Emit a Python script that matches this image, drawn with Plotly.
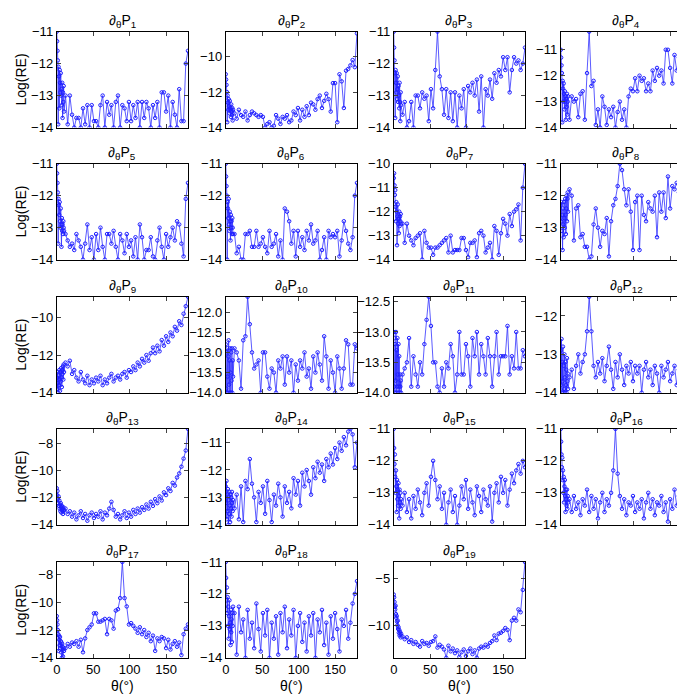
import plotly.graph_objects as go

# theta grid (degrees): dense near 0, then every 3 degrees
theta = [0, 0.5, 1, 1.5, 2, 2.5, 3, 3.5, 4, 4.5, 5, 5.5, 6, 6.5, 7, 7.5, 8, 8.5, 9, 9.5, 10,
         12, 15, 18, 21, 24, 27, 30, 33, 36, 39, 42, 45, 48, 51, 54, 57, 60, 63, 66, 69,
         72, 75, 78, 81, 84, 87, 90, 93, 96, 99, 102, 105, 108, 111, 114, 117, 120, 123, 126, 129,
         132, 135, 138, 141, 144, 147, 150, 153, 156, 159, 162, 165, 168, 171, 174, 177, 180]

p1 = [-11.0, -11.3, -11.6, -11.9, -13.9, -12.1, -12.4, -13.4, -12.2, -12.6, -12.9, -12.3, -13.0, -12.8, -13.3, -12.6, -13.7, -12.9, -13.2, -12.7, -13.5,
      -13.0, -13.9, -13.0, -13.6, -14.0, -13.7, -13.7, -14.0, -13.4, -13.9, -13.3, -14.0, -13.3, -13.8, -13.8, -14.0, -13.3, -13.0, -14.0, -13.2,
      -13.6, -13.3, -14.0, -13.2, -13.0, -14.0, -13.3, -13.4, -13.8, -13.2, -13.8, -13.3, -13.7, -13.2, -14.0, -13.2, -13.7, -13.2, -13.4, -14.0,
      -13.3, -13.7, -13.2, -14.0, -12.9, -12.9, -13.5, -13.0, -14.0, -13.2, -13.6, -14.0, -12.8, -13.8, -13.8, -12.0, -11.6]
p2 = [-11.0, -11.3, -11.6, -12.0, -13.7, -12.2, -12.6, -13.0, -12.4, -12.8, -13.2, -12.5, -13.0, -12.9, -13.4, -12.7, -13.1, -13.3, -12.9, -13.6, -13.0,
      -13.2, -13.5, -13.0, -13.3, -13.4, -13.1, -13.6, -13.3, -13.1, -13.2, -13.3, -13.4, -13.3, -13.4, -14.0, -13.8, -13.7, -14.0, -13.9, -13.3,
      -13.5, -13.8, -13.4, -13.5, -13.3, -13.7, -13.6, -13.1, -13.3, -12.9, -13.6, -13.0, -13.4, -12.8, -13.3, -12.6, -12.7, -13.0, -12.4, -12.2,
      -12.9, -12.5, -12.1, -12.4, -13.1, -11.5, -11.5, -13.7, -11.0, -11.4, -12.9, -10.8, -10.7, -10.5, -10.2, -10.6, -8.7]
p3 = [-11.0, -11.5, -11.9, -12.3, -13.7, -12.2, -12.6, -12.9, -12.3, -13.1, -12.8, -12.4, -13.2, -12.7, -13.0, -13.4, -12.6, -13.2, -13.8, -12.9, -13.3,
      -13.6, -13.2, -14.0, -13.8, -13.2, -14.0, -13.0, -13.0, -13.4, -12.9, -13.1, -13.0, -13.8, -12.8, -13.4, -12.2, -11.0, -12.4, -12.8, -13.6,
      -12.8, -13.7, -12.9, -13.8, -12.9, -14.0, -13.0, -13.4, -12.8, -14.0, -12.7, -12.9, -12.6, -13.0, -12.5, -13.5, -12.4, -14.0, -12.8, -13.0,
      -12.5, -13.1, -12.3, -12.6, -12.2, -12.4, -11.8, -12.2, -11.8, -12.9, -12.2, -11.8, -12.0, -11.9, -12.2, -12.0, -11.5]
p4 = [-11.0, -11.3, -11.6, -11.9, -13.8, -12.2, -12.5, -13.0, -12.3, -12.7, -13.3, -12.6, -13.0, -12.8, -13.7, -12.9, -13.2, -12.7, -13.5, -13.0, -12.8,
      -13.7, -12.8, -13.0, -12.9, -13.6, -12.7, -12.6, -13.7, -11.9, -10.3, -12.4, -12.2, -13.9, -13.3, -14.0, -12.8, -13.2, -13.9, -13.3, -13.6,
      -13.2, -14.0, -13.4, -13.0, -13.7, -13.3, -14.0, -12.8, -12.5, -12.6, -12.1, -12.6, -12.0, -12.2, -12.1, -12.6, -12.3, -12.6, -11.8, -12.2,
      -11.7, -12.0, -11.8, -12.3, -11.0, -11.0, -11.7, -12.3, -11.2, -11.8, -11.3, -11.5, -12.3, -11.0, -11.2, -10.6, -10.8]
p5 = [-11.0, -11.3, -11.6, -11.9, -13.5, -12.1, -12.3, -12.6, -12.2, -12.8, -13.0, -12.4, -12.9, -13.6, -12.7, -13.1, -12.9, -13.2, -12.8, -13.0, -13.1,
      -13.2, -13.4, -13.6, -13.5, -13.7, -13.2, -13.4, -13.6, -14.0, -13.5, -12.9, -13.7, -13.3, -14.0, -13.2, -13.7, -13.0, -13.6, -14.0, -13.2,
      -13.2, -13.5, -13.1, -13.6, -14.0, -13.2, -13.4, -13.8, -13.2, -13.6, -13.4, -13.9, -13.3, -14.0, -12.9, -13.3, -14.0, -13.7, -13.7, -13.3,
      -13.9, -14.0, -13.4, -13.0, -13.6, -14.0, -13.2, -13.6, -13.3, -13.0, -13.4, -12.8, -12.9, -13.5, -13.9, -12.1, -11.6]
p6 = [-11.0, -11.4, -11.7, -12.0, -14.0, -12.2, -12.4, -12.7, -12.1, -12.9, -13.1, -12.5, -12.8, -13.4, -12.6, -13.0, -12.8, -13.2, -12.7, -13.0, -13.2,
      -13.2, -13.8, -13.6, -14.0, -14.0, -13.2, -13.2, -13.1, -13.6, -13.6, -13.1, -13.6, -13.5, -13.3, -13.6, -13.8, -13.1, -13.6, -13.5, -13.2,
      -13.9, -13.4, -14.0, -12.4, -12.5, -12.8, -13.5, -13.1, -13.9, -13.1, -13.6, -13.3, -13.7, -13.1, -13.4, -12.9, -13.5, -13.4, -13.1, -14.0,
      -13.7, -13.3, -14.0, -13.1, -13.3, -13.2, -13.3, -13.1, -13.9, -13.4, -12.8, -13.1, -13.5, -13.7, -13.3, -12.0, -11.6]
p7 = [-10.6, -10.4, -10.9, -11.3, -11.1, -11.8, -12.4, -11.6, -12.0, -13.4, -12.2, -11.7, -12.5, -12.3, -12.9, -12.0, -12.6, -12.2, -12.4, -12.1, -12.5,
      -12.5, -13.3, -12.5, -13.0, -13.2, -13.4, -13.1, -13.0, -12.9, -14.0, -12.8, -13.3, -13.5, -13.5, -13.8, -13.5, -13.5, -13.4, -13.3, -13.2,
      -13.1, -13.7, -13.0, -13.7, -13.6, -13.6, -13.6, -13.1, -13.1, -13.6, -13.9, -13.3, -13.3, -13.2, -13.9, -12.9, -12.8, -13.0, -13.7, -13.5,
      -13.3, -14.0, -12.6, -12.8, -13.8, -12.9, -12.3, -12.5, -13.0, -12.1, -12.6, -12.0, -11.9, -11.7, -13.2, -11.0, -10.0]
p8 = [-12.3, -12.8, -12.2, -13.1, -12.6, -13.7, -12.4, -12.9, -13.3, -12.2, -12.7, -13.0, -12.1, -12.6, -13.2, -12.4, -12.0, -12.8, -12.1, -11.9, -12.5,
      -11.8, -12.0, -13.4, -12.4, -12.3, -13.3, -13.2, -13.6, -13.6, -14.0, -13.9, -12.9, -12.4, -13.0, -13.6, -13.1, -13.2, -12.7, -13.9, -12.8,
      -12.3, -12.1, -11.7, -11.0, -11.2, -11.8, -12.3, -11.8, -12.5, -13.7, -12.2, -12.0, -13.7, -12.0, -12.6, -12.8, -12.2, -12.4, -12.5, -12.0,
      -13.3, -11.9, -12.5, -11.9, -12.7, -11.4, -12.4, -11.7, -11.8, -11.6, -11.9, -11.5, -12.2, -11.6, -12.3, -11.4, -11.2]
p9 = [-13.2, -13.8, -12.9, -13.5, -14.0, -13.1, -13.6, -12.8, -13.3, -13.9, -12.9, -13.4, -12.7, -13.2, -13.7, -12.8, -13.0, -12.6, -13.3, -12.5, -12.9,
      -12.4, -12.6, -12.3, -13.0, -12.8, -13.2, -13.4, -12.9, -13.3, -13.5, -13.1, -13.6, -13.3, -13.5, -13.2, -13.4, -13.1, -13.6, -13.3, -13.5,
      -13.2, -13.0, -13.4, -13.2, -13.1, -13.3, -13.0, -12.9, -13.2, -12.8, -12.9, -12.6, -12.8, -12.4, -12.6, -12.2, -12.4, -12.0, -12.3, -11.9,
      -11.6, -11.9, -11.5, -11.8, -11.2, -11.5, -11.0, -11.3, -10.8, -11.0, -10.5, -10.7, -10.2, -10.4, -9.8, -9.4, -8.9]
p10 = [-12.8, -13.9, -13.0, -14.0, -12.9, -13.6, -14.0, -13.1, -12.7, -13.8, -13.2, -14.0, -12.9, -13.5, -14.0, -13.0, -13.7, -12.9, -14.0, -13.2, -13.6,
       -12.9, -13.0, -13.2, -13.9, -12.7, -12.6, -11.62, -12.3, -13.0, -13.4, -13.3, -13.2, -14.0, -13.0, -13.0, -13.6, -13.9, -13.4, -13.5, -14.0,
       -13.2, -13.4, -13.1, -13.8, -13.1, -13.5, -13.2, -14.0, -13.3, -13.7, -13.2, -13.4, -13.0, -13.6, -13.4, -13.9, -13.1, -13.5, -13.0, -13.3,
       -13.7, -12.6, -13.1, -13.9, -13.2, -13.5, -14.0, -13.1, -13.4, -13.9, -13.4, -12.7, -12.8, -13.8, -13.8, -12.8, -12.9]
p11 = [-13.0, -13.9, -13.1, -14.0, -13.2, -13.8, -13.0, -14.0, -13.3, -13.9, -13.1, -13.7, -14.0, -13.2, -13.9, -13.4, -14.0, -13.7, -13.9, -13.8, -14.0,
       -13.7, -13.6, -13.5, -13.1, -13.9, -13.4, -13.7, -13.9, -13.5, -13.7, -13.2, -12.8, -12.42, -12.9, -13.5, -13.5, -13.9, -14.0, -13.6, -13.9,
       -13.5, -13.6, -13.2, -13.4, -14.0, -13.7, -13.0, -13.7, -13.7, -13.2, -13.4, -13.9, -13.1, -13.4, -13.0, -13.7, -13.2, -13.4, -13.7, -13.1,
       -13.4, -13.9, -13.4, -13.0, -13.7, -13.4, -13.4, -13.4, -12.9, -13.7, -13.4, -13.6, -13.0, -13.6, -13.6, -13.3, -13.4]
p12 = [-12.9, -13.8, -12.6, -14.0, -13.2, -13.7, -12.8, -14.0, -13.3, -13.9, -13.0, -13.6, -14.0, -13.2, -13.8, -13.4, -14.0, -13.1, -13.7, -13.5, -13.9,
       -13.6, -13.4, -13.9, -13.3, -13.0, -13.5, -13.2, -13.0, -12.4, -11.5, -12.4, -13.3, -13.6, -13.2, -13.5, -13.1, -13.7, -13.3, -12.8, -13.4,
       -13.9, -13.2, -13.6, -13.0, -13.4, -13.8, -13.3, -13.5, -13.2, -13.7, -13.3, -13.5, -13.3, -14.0, -13.4, -13.2, -13.6, -13.4, -13.8, -13.3,
       -13.5, -14.0, -13.3, -13.6, -13.4, -13.2, -13.7, -13.5, -13.3, -13.8, -13.4, -13.6, -13.3, -13.9, -13.5, -13.4, -13.6]
p13 = [-11.3, -11.8, -11.5, -12.1, -12.4, -11.9, -12.6, -12.2, -12.8, -12.5, -13.0, -12.4, -12.7, -13.1, -12.6, -12.9, -12.8, -13.2, -12.7, -13.0, -12.9,
       -12.8, -13.2, -13.0, -13.4, -13.1, -13.6, -13.3, -13.0, -13.5, -13.2, -13.7, -13.3, -13.1, -13.5, -13.2, -13.4, -13.0, -13.6, -13.1, -13.3,
       -12.8, -12.3, -12.9, -13.4, -13.2, -13.6, -13.3, -13.0, -13.5, -13.1, -13.4, -12.9, -13.2, -12.8, -13.1, -12.7, -12.9, -12.5, -12.8, -12.3,
       -12.6, -12.1, -12.4, -11.9, -12.2, -11.6, -11.8, -11.3, -11.5, -10.9, -11.1, -10.5, -10.2, -9.7, -9.1, -8.5, -6.9]
p14 = [-12.6, -13.2, -12.4, -13.8, -12.9, -13.5, -12.7, -14.0, -13.1, -13.6, -12.8, -13.3, -13.9, -12.9, -13.4, -13.0, -13.7, -12.8, -13.2, -13.5, -13.1,
       -13.4, -12.9, -13.8, -12.6, -13.9, -12.4, -12.7, -11.6, -12.5, -13.0, -13.9, -12.8, -13.2, -12.6, -13.6, -12.4, -13.1, -13.9, -12.9, -13.3,
       -12.5, -13.0, -13.7, -12.6, -13.2, -12.8, -13.4, -12.3, -12.9, -12.4, -13.3, -12.1, -12.6, -12.0, -12.4, -12.9, -11.9, -12.3, -11.7, -12.1,
       -11.8, -12.4, -11.6, -11.9, -11.4, -11.8, -11.2, -11.6, -11.0, -11.3, -10.8, -11.1, -10.6, -10.5, -10.7, -11.9, -11.0]
p15 = [-11.0, -11.6, -12.1, -11.8, -12.5, -13.0, -12.3, -12.8, -13.6, -12.6, -13.2, -12.9, -13.4, -12.7, -13.1, -13.8, -12.9, -13.3, -13.0, -13.5, -13.2,
       -13.4, -13.0, -13.6, -13.2, -13.8, -13.1, -13.5, -12.9, -13.3, -13.7, -13.0, -12.7, -13.4, -12.5, -12.0, -12.6, -13.2, -12.8, -13.5, -13.0,
       -14.0, -13.3, -12.9, -13.6, -13.1, -14.0, -13.4, -12.8, -13.2, -12.6, -13.5, -12.9, -13.3, -13.7, -12.8, -13.1, -13.6, -12.9, -13.2, -13.4,
       -12.8, -13.9, -13.0, -12.7, -13.3, -12.5, -13.0, -12.6, -13.4, -12.9, -12.4, -12.7, -12.3, -12.1, -12.4, -12.0, -12.2]
p16 = [-11.0, -11.4, -11.8, -12.2, -11.9, -12.6, -12.3, -13.0, -12.5, -13.3, -12.8, -12.6, -13.1, -13.6, -12.9, -13.2, -13.4, -12.9, -13.5, -13.1, -13.3,
       -13.2, -13.6, -13.1, -13.5, -13.3, -13.7, -13.2, -13.4, -12.9, -13.6, -13.1, -13.5, -13.2, -13.8, -13.3, -13.0, -13.6, -13.2, -13.4, -13.0,
       -12.3, -11.0, -12.4, -13.1, -13.5, -13.2, -13.7, -13.3, -13.4, -13.1, -13.6, -13.3, -13.5, -13.2, -13.8, -13.3, -13.0, -13.5, -13.2, -13.7,
       -13.3, -13.4, -13.1, -13.6, -13.3, -13.9, -13.2, -13.5, -12.9, -13.4, -13.1, -12.6, -13.0, -12.6, -13.2, -12.5, -12.2]
p17 = [-11.0, -11.3, -11.6, -12.0, -12.3, -13.5, -12.4, -12.7, -13.1, -12.5, -13.3, -12.8, -13.6, -12.9, -14.0, -13.0, -13.2, -13.9, -13.4, -13.3, -13.5,
       -13.3, -13.0, -13.2, -12.9, -13.0, -12.8, -13.2, -12.7, -13.6, -12.6, -12.0, -11.8, -11.6, -10.8, -10.8, -11.4, -11.4, -11.3, -11.2, -12.3,
       -11.2, -11.3, -11.9, -10.6, -10.5, -9.7, -7.1, -9.7, -10.3, -11.6, -11.5, -11.7, -11.9, -12.2, -11.8, -12.3, -12.0, -12.5, -12.2, -12.8,
       -12.4, -13.5, -12.6, -12.8, -12.5, -12.6, -13.3, -12.7, -13.4, -13.0, -12.8, -13.2, -12.9, -13.8, -12.3, -11.9, -11.6]
p18 = [-11.0, -11.5, -12.2, -11.8, -12.6, -12.1, -13.0, -12.4, -13.4, -12.7, -12.2, -13.1, -12.9, -13.6, -12.5, -13.2, -12.8, -13.5, -12.6, -13.0, -12.4,
       -12.6, -13.9, -12.4, -13.2, -12.8, -14.0, -12.5, -13.4, -12.9, -13.7, -12.3, -13.1, -13.8, -12.6, -13.3, -12.5, -14.0, -12.9, -13.4, -12.7,
       -13.9, -12.6, -13.2, -12.4, -13.7, -12.8, -13.3, -12.5, -14.0, -13.0, -12.6, -13.5, -12.9, -13.8, -12.7, -13.3, -12.6, -14.0, -12.8, -13.2,
       -12.5, -13.6, -12.9, -13.9, -12.7, -13.4, -12.6, -13.1, -13.8, -12.8, -13.0, -12.5, -13.4, -12.9, -12.3, -12.0, -11.6]
p19 = [-6.7, -7.0, -7.5, -8.0, -8.3, -7.9, -8.8, -9.2, -9.0, -9.6, -10.0, -9.5, -10.4, -10.2, -10.8, -10.5, -11.1, -10.7, -11.0, -11.3, -10.9,
       -11.2, -11.5, -11.3, -11.8, -11.6, -12.0, -11.8, -12.1, -12.3, -11.7, -12.0, -11.9, -12.2, -11.8, -11.7, -11.2, -12.4, -12.1, -12.3, -12.6,
       -13.5, -12.2, -12.8, -12.5, -13.0, -12.7, -13.4, -12.9, -12.6, -13.3, -12.8, -12.5, -13.1, -12.7, -13.5, -12.5, -12.3, -12.4, -12.1, -12.3,
       -11.9, -11.7, -11.1, -11.6, -10.9, -10.8, -10.6, -10.3, -10.5, -11.6, -9.5, -9.2, -9.5, -8.3, -8.6, -6.2, -3.2]

series = [p1, p2, p3, p4, p5, p6, p7, p8, p9, p10, p11, p12, p13, p14, p15, p16, p17, p18, p19]
y_ranges = [[-14, -11], [-14, -8.6], [-14, -11], [-14, -10.3], [-14, -11], [-14, -11], [-14, -10], [-14, -11],
            [-14, -8.9], [-14, -11.62], [-14, -12.42], [-14, -11.5], [-14, -6.9], [-14, -10.5], [-14, -11], [-14, -11],
            [-14, -7.1], [-14, -11], [-13.5, -3.2]]
y_dticks = [1, 2, 1, 1, 1, 1, 1, 1, 2, 0.5, 0.5, 1, 2, 1, 1, 1, 2, 1, 5]

W, H = 685, 696
col_left = [45, 215, 384, 552]
col_w = 132
row_top = [17, 152, 288, 423, 559]
row_h = 98

fig = go.Figure()
font = dict(family="Liberation Sans, Arial, sans-serif", size=13, color="black")
layout = dict(width=W, height=H, margin=dict(l=0, r=0, t=0, b=0),
              plot_bgcolor="white", paper_bgcolor="white", showlegend=False, font=font)
annotations = []

for i, ys in enumerate(series):
    r, c = divmod(i, 4)
    n = i + 1
    xa = "x" if n == 1 else f"x{n}"
    ya = "y" if n == 1 else f"y{n}"
    fig.add_trace(go.Scatter(x=theta, y=ys, xaxis=xa, yaxis=ya, mode="lines+markers",
                             line=dict(color="rgba(50,50,255,0.8)", width=1),
                             marker=dict(symbol="circle-open", size=3.5, color="#2020ff",
                                         line=dict(width=1))))
    x0 = col_left[c] / W
    x1 = (col_left[c] + col_w) / W
    y1 = 1 - row_top[r] / H
    y0 = 1 - (row_top[r] + row_h) / H
    bottom = r == 4
    layout[f"xaxis{n}"] = dict(domain=[x0, x1], anchor=ya, range=[0, 180], tickvals=[0, 50, 100, 150],
                               showticklabels=bottom, ticks="inside", ticklen=4, showline=True,
                               mirror="ticks", linecolor="black", linewidth=1, showgrid=False,
                               zeroline=False, tickfont=dict(size=13))
    layout[f"yaxis{n}"] = dict(domain=[y0, y1], anchor=xa, range=y_ranges[i], dtick=y_dticks[i],
                               tick0=0, ticks="inside", ticklen=4, showline=True, mirror="ticks",
                               linecolor="black", linewidth=1, showgrid=False, zeroline=False,
                               tickformat=".1f" if y_dticks[i] == 0.5 else "d", tickfont=dict(size=13))
    annotations.append(dict(text=f"∂<sub>θ</sub>P<sub>{n}</sub>", xref="paper", yref="paper",
                            x=(x0 + x1) / 2, y=y1, yanchor="bottom", xanchor="center",
                            showarrow=False, font=dict(size=14)))
    if c == 0:
        annotations.append(dict(text="Log(RE)", xref="paper", yref="paper", x=9 / W, y=(y0 + y1) / 2,
                                textangle=-90, showarrow=False, font=dict(size=14),
                                xanchor="center", yanchor="middle"))
    if bottom:
        annotations.append(dict(text="θ(°)", xref="paper", yref="paper", x=(x0 + x1) / 2, y=1 - 686 / H,
                                showarrow=False, font=dict(size=14), xanchor="center", yanchor="middle"))

layout["annotations"] = annotations
fig.update_layout(**layout)
fig.write_html("out.html")
